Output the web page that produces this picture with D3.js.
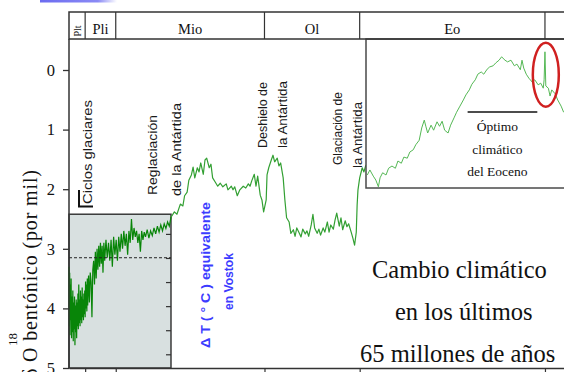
<!DOCTYPE html>
<html lang="es">
<head>
<meta charset="UTF-8">
<title>Cambio climático en los últimos 65 millones de años</title>
<script src="https://d3js.org/d3.v7.min.js"></script>
<style>
    * { margin: 0; padding: 0; box-sizing: border-box; }
    html, body { width: 564px; height: 372px; overflow: hidden; background: #fff; }
    svg { display: block; }
</style>
</head>
<body>
<svg id="chart" width="564" height="372"></svg>
<script>
// epochs (Ma at the boundaries)
const epochNames = ["Plt", "Pli", "Mio", "Ol", "Eo"]
const epochEdges = [0, 1.9, 5.5, 23, 34.2, 56]
const yTicks = [0, 1, 2, 3, 4, 5]
const dTTicks = [2, 0, -2, -4, -6, -8]

// glacial cycles, 0 - 12 Ma (dark green, inside the grey box)
const glacialAge = [
    0, 0.04, 0.08, 0.12, 0.16, 0.2,
    0.25, 0.3, 0.35, 0.4, 0.45, 0.5, 0.55, 0.6, 0.65, 0.7,
    0.75, 0.8, 0.85, 0.9, 0.95, 1, 1.05, 1.1, 1.15, 1.2,
    1.25, 1.3, 1.35, 1.4, 1.45, 1.5, 1.55, 1.6, 1.65, 1.7,
    1.75, 1.8, 1.85, 1.9, 1.95, 2, 2.05, 2.1, 2.15, 2.2,
    2.3, 2.4, 2.5, 2.6, 2.7, 2.8, 2.9, 3, 3.1, 3.2,
    3.3, 3.4, 3.5, 3.6, 3.7, 3.8, 3.9, 4, 4.1, 4.2,
    4.35, 4.5, 4.65, 4.8, 4.95, 5.1, 5.25, 5.4, 5.55, 5.7,
    5.85, 6, 6.15, 6.3, 6.45, 6.6, 6.75, 6.9, 7.05, 7.2,
    7.35, 7.5, 7.65, 7.8, 7.95, 8.1, 8.25, 8.4, 8.55, 8.7,
    8.85,
    9, 9.2, 9.4, 9.6, 9.8, 10, 10.2, 10.4, 10.6, 10.8,
    11, 11.2, 11.4, 11.6, 11.8, 12
]
const glacialD18O = [
    3.30, 4.30, 3.40, 4.45, 3.60, 4.20,
    3.50, 4.50, 3.80, 4.40, 3.70, 4.55, 3.90, 4.35, 3.80, 4.62,
    3.95, 4.40, 3.85, 4.50, 3.90, 4.30, 3.75, 4.35, 3.60, 4.25,
    3.85, 4.30, 3.70, 4.20, 3.80, 4.25, 3.65, 4.15, 3.85, 4.20,
    3.75, 4.10, 3.70, 4.15, 3.55, 4.00, 3.60, 4.05, 3.50, 3.95,
    3.45, 3.90, 3.40, 3.55, 4.15, 3.35, 3.20, 3.60, 3.05, 3.50,
    3.00, 3.35, 2.95, 3.30, 2.90, 3.25, 2.95, 3.40, 2.90, 3.20,
    2.85, 3.15, 2.90, 3.20, 2.85, 3.30, 2.80, 3.10, 2.85, 3.20,
    2.80, 3.05, 2.75, 3.00, 2.70, 2.95, 2.75, 3.10, 2.70, 2.90,
    2.50, 2.85, 2.65, 2.80, 2.70, 2.90, 2.75, 3.05, 2.70, 2.85,
    2.72,
    2.80, 2.68, 2.82, 2.70, 2.78, 2.65, 2.75, 2.62, 2.72, 2.60,
    2.70, 2.58, 2.66, 2.55, 2.62, 2.47
]

// 12 - 35 Ma
const mainAge = [
    12.0, 12.4, 12.7, 13.1, 13.4, 13.6, 13.9, 14.1, 14.4, 14.6,
    14.8, 15.1, 15.3, 15.5, 15.8, 16.0, 16.2, 16.5, 16.7, 16.9,
    17.2, 17.5, 17.8, 18.1, 18.5, 18.7, 19.1, 19.3, 19.5, 19.8,
    20.1, 20.5, 20.8, 21.1, 21.3, 21.5, 21.8, 22.0, 22.2, 22.5,
    22.7, 22.9, 23.2, 23.3, 23.5, 23.8, 24.0, 24.2, 24.5, 24.7,
    24.9, 25.2, 25.4, 25.6, 25.9, 26.1, 26.4, 26.6, 26.8, 27.1,
    27.3, 27.5, 27.8, 28.0, 28.2, 28.5, 28.7, 28.9, 29.2, 29.4,
    29.6, 29.9, 30.1, 30.4, 30.6, 30.8, 31.1, 31.3, 31.5, 31.8,
    32.0, 32.2, 32.5, 32.7, 32.9, 33.2, 33.4, 33.6, 33.8, 33.9,
    34.0, 34.2, 34.5, 34.7, 34.9, 35.2
]
const mainD18O = [
    2.47, 2.38, 2.42, 2.25, 2.28, 2.11, 2.05, 1.85, 1.76, 1.63,
    1.81, 1.64, 1.71, 1.56, 1.75, 1.51, 1.48, 1.64, 1.58, 1.81,
    1.88, 1.95, 1.90, 1.96, 1.91, 2.01, 1.95, 2.01, 1.96, 2.11,
    2.01, 1.95, 1.98, 1.91, 1.95, 1.86, 1.75, 1.95, 1.78, 2.10,
    2.18, 2.38, 2.18, 1.76, 1.64, 1.51, 1.43, 1.54, 1.48, 1.61,
    1.56, 1.81, 2.18, 2.48, 2.55, 2.74, 2.68, 2.79, 2.65, 2.74,
    2.80, 2.67, 2.75, 2.70, 2.79, 2.60, 2.42, 2.65, 2.74, 2.67,
    2.77, 2.65, 2.72, 2.55, 2.72, 2.60, 2.67, 2.52, 2.40, 2.62,
    2.48, 2.68, 2.53, 2.63, 2.58, 2.72, 2.82, 2.94, 2.72, 2.27,
    2.01, 1.81, 1.64, 1.71, 1.61, 1.56
]

// Eocene detail (inset, own vertical scale)
const eoceneAge = [
    35.1, 35.4, 35.8, 36.1, 36.4, 36.6, 36.9, 37.3, 37.6, 38.0,
    38.4, 38.7, 39.1, 39.4, 39.8, 40.1, 40.5, 40.8, 41.2, 41.5,
    41.8, 42.0, 42.2, 42.6, 42.9, 43.3, 43.6, 43.9, 44.2, 44.6,
    44.9, 45.3, 45.6, 46.0, 46.4, 46.7, 47.1, 47.4, 47.8, 48.1,
    48.5, 48.8, 49.2, 49.5, 49.9, 50.2, 50.6, 50.9, 51.3, 51.6,
    52.0, 52.4, 52.7, 53.1, 53.3, 53.5, 53.8, 54.1, 54.5, 54.8,
    55.2, 55.5, 55.8, 55.9, 56.0, 56.1, 56.4, 56.6, 56.8, 57.2,
    57.5, 57.9, 58.2
]
const eoceneD18O = [
    1.50, 1.41, 1.52, 1.59, 1.71, 1.55, 1.46, 1.50, 1.38, 1.34,
    1.38, 1.25, 1.29, 1.18, 1.20, 1.09, 1.05, 0.96, 0.88, 0.66,
    0.52, 0.64, 0.75, 0.61, 0.70, 0.55, 0.63, 0.54, 0.70, 0.75,
    0.61, 0.48, 0.38, 0.27, 0.16, 0.07, -0.02, -0.12, -0.20, -0.30,
    -0.34, -0.30, -0.39, -0.43, -0.45, -0.50, -0.55, -0.61, -0.55, -0.52,
    -0.55, -0.45, -0.48, -0.38, -0.55, -0.41, -0.30, -0.23, -0.16, -0.20,
    -0.11, -0.14, -0.05, -0.20, -0.70, -0.09, -0.05, 0.09, -0.02, 0.05,
    0.16, 0.27, 0.38
]

const glacialBox = { age: [0, 12], d18: [2.42, 5] }
const vostokZero = 3.15
const optimum = { from: 46.9, to: 55.1, level: 0.375, mid: 50.4 }
const petm = { age: 56.1, level: -0.29 }

const SERIF = '"Liberation Serif", "Times New Roman", serif'
const SANS = '"Liberation Sans", Arial, sans-serif'

const svg = d3.select("#chart")
const W = 564

const x = d3.scaleLinear().domain([0, 58.24]).range([69, 564])
const y = d3.scaleLinear().domain([0, 5]).range([70, 368])
const yInset = d3.scaleLinear().domain([-1, 2]).range([35, 203])
const dT = d3.scaleLinear().domain([2, -8]).range([y(2.75), y(4.77)])

// faint blue stripe at the very top
const grad = svg.append("defs").append("linearGradient").attr("id", "stripe")
grad.append("stop").attr("offset", "0%").attr("stop-color", "#6b6bf0")
grad.append("stop").attr("offset", "75%").attr("stop-color", "#8a8af5")
grad.append("stop").attr("offset", "100%").attr("stop-color", "#ffffff")
svg.append("rect").attr("x", 40).attr("y", 0).attr("width", 77).attr("height", 2.5)
    .attr("fill", "url(#stripe)")

// grey box of glacial cycles
svg.append("rect")
    .attr("x", x(glacialBox.age[0])).attr("y", y(glacialBox.d18[0]))
    .attr("width", x(glacialBox.age[1]) - x(glacialBox.age[0]))
    .attr("height", y(glacialBox.d18[1]) - y(glacialBox.d18[0]))
    .attr("fill", "#d8e0e0").attr("stroke", "#3a3a3a").attr("stroke-width", 1.5)

// main curve 12-35 Ma
const line = d3.line().x(d => x(d[0])).y(d => y(d[1]))
svg.append("path")
    .attr("d", line(d3.zip(mainAge, mainD18O)))
    .attr("fill", "none").attr("stroke", "#33a033").attr("stroke-width", 1.2)
    .attr("stroke-linejoin", "round")

// glacial cycles
svg.append("path")
    .attr("d", line(d3.zip(glacialAge, glacialD18O)))
    .attr("fill", "none").attr("stroke", "#088508").attr("stroke-width", 1.2)

svg.append("line")
    .attr("x1", x(glacialBox.age[0])).attr("x2", x(glacialBox.age[1]))
    .attr("y1", y(vostokZero)).attr("y2", y(vostokZero))
    .attr("stroke", "#222").attr("stroke-width", 1).attr("stroke-dasharray", "3,2")

// ΔT ticks on the right edge of the grey box
svg.append("g")
    .attr("transform", `translate(${x(glacialBox.age[1])},0)`)
    .call(d3.axisLeft(dT).tickValues(dTTicks).tickSize(5).tickFormat(""))
    .call(g => g.select(".domain").remove())
    .call(g => g.selectAll("line").attr("stroke", "#333").attr("stroke-width", 1.2))

// inset with the Eocene detail
const inset = svg.append("g")
svg.append("clipPath").attr("id", "insetClip").append("rect")
    .attr("x", 366).attr("y", 39).attr("width", 200).attr("height", 149)
inset.append("rect")
    .attr("x", 366).attr("y", 39).attr("width", 210).attr("height", 149)
    .attr("fill", "#fff").attr("stroke", "#4a4a4a").attr("stroke-width", 1.5)
const insetLine = d3.line().x(d => x(d[0])).y(d => yInset(d[1]))
inset.append("path")
    .attr("clip-path", "url(#insetClip)")
    .attr("d", insetLine(d3.zip(eoceneAge, eoceneD18O)))
    .attr("fill", "none").attr("stroke", "#55b855").attr("stroke-width", 1)
    .attr("stroke-linejoin", "round")
inset.append("line")
    .attr("x1", x(optimum.from)).attr("x2", x(optimum.to))
    .attr("y1", yInset(optimum.level)).attr("y2", yInset(optimum.level))
    .attr("stroke", "#111").attr("stroke-width", 1.5)
inset.append("text").attr("font-family", SERIF)
    .attr("x", x(optimum.mid)).attr("text-anchor", "middle")
    .attr("font-size", 13.5).attr("fill", "#111")
    .selectAll("tspan").data(["Óptimo", "climático", "del Eoceno"]).join("tspan")
    .attr("x", x(optimum.mid))
    .attr("y", (d, i) => yInset(optimum.level) + 19 + i * 22.5)
    .text(d => d)
inset.append("ellipse")
    .attr("cx", x(petm.age)).attr("cy", yInset(petm.level))
    .attr("rx", 13).attr("ry", 32)
    .attr("fill", "none").attr("stroke", "#d02020").attr("stroke-width", 2.5)

// header with epochs
svg.append("rect")
    .attr("x", x(0)).attr("y", 12).attr("width", W + 5 - x(0)).attr("height", 27)
    .attr("fill", "none").attr("stroke", "#333").attr("stroke-width", 1.5)
svg.selectAll("line.edge").data(epochEdges.slice(1)).join("line")
    .attr("class", "edge")
    .attr("x1", d => x(d)).attr("x2", d => x(d)).attr("y1", 12).attr("y2", 39)
    .attr("stroke", "#333").attr("stroke-width", 1.2)
epochNames.forEach((name, i) => {
    const cx = (x(epochEdges[i]) + x(epochEdges[i + 1])) / 2
    if (i === 0) {
        svg.append("text").attr("font-family", SERIF)
            .attr("transform", `translate(${cx + 4},31) rotate(-90)`)
            .attr("text-anchor", "middle").attr("font-size", 10).attr("fill", "#111")
            .text(name)
    } else {
        svg.append("text").attr("font-family", SERIF)
            .attr("x", cx).attr("y", 34).attr("text-anchor", "middle")
            .attr("font-size", 14.5).attr("fill", "#111")
            .text(name)
    }
})

// axes
svg.append("line").attr("x1", x(0)).attr("x2", x(0)).attr("y1", 39).attr("y2", y(5))
    .attr("stroke", "#333").attr("stroke-width", 1.5)
svg.append("g")
    .attr("transform", `translate(${x(0)},0)`)
    .call(d3.axisLeft(y).tickValues(yTicks).tickSize(6).tickPadding(8).tickFormat(d3.format("d")))
    .call(g => g.select(".domain").remove())
    .call(g => g.selectAll("line").attr("stroke", "#333").attr("stroke-width", 1.3))
    .call(g => g.selectAll("text").attr("font-family", SERIF).attr("font-size", 16.5).attr("fill", "#111"))

svg.append("g")
    .attr("transform", `translate(0,${y(5)})`)
    .call(d3.axisBottom(x).tickValues(epochEdges.slice(1)).tickSize(5).tickSizeOuter(0).tickFormat(""))
    .call(g => g.select(".domain").attr("stroke", "#333").attr("stroke-width", 1.5))
    .call(g => g.selectAll("line").attr("stroke", "#333").attr("stroke-width", 1.2))

// y title: δ, raised 18, then "O bentónico (por mil)"
svg.append("text").attr("font-family", SERIF)
    .attr("transform", "translate(37,378) rotate(-90)")
    .attr("font-size", 20).attr("fill", "#111")
    .text("δ")
svg.append("text").attr("font-family", SERIF)
    .attr("transform", "translate(17,346) rotate(-90)")
    .attr("font-size", 13).attr("fill", "#111")
    .text("18")
svg.append("text").attr("font-family", SERIF)
    .attr("transform", "translate(37,362) rotate(-90)")
    .attr("font-size", 20).attr("fill", "#111")
    .attr("textLength", 192).attr("lengthAdjust", "spacing")
    .text("O bentónico (por mil)")

// event labels
const rotated = (txt, px, py, len, opts = {}) => svg.append("text")
    .attr("font-family", SANS)
    .attr("transform", `translate(${px},${py}) rotate(-90)`)
    .attr("font-size", opts.size || 12.5)
    .attr("font-weight", opts.weight || "normal")
    .attr("fill", opts.fill || "#1a1a1a")
    .attr("textLength", len).attr("lengthAdjust", "spacingAndGlyphs")
    .text(txt)

rotated("Ciclos glaciares", 92, 204, 104)
rotated("Reglaciación", 157, 195, 80)
rotated("de la Antártida", 181, 196, 93)
rotated("Deshielo de", 267, 148, 66)
rotated("la Antártida", 287, 148, 67)
rotated("Glaciación de", 342, 165, 73)
rotated("la Antártida", 362, 168, 66)
rotated("Δ T ( ° C ) equivalente", 210, 348, 146, { size: 12, weight: "bold", fill: "#3c3cff" })
rotated("en Vostok", 233, 310, 57, { size: 12, weight: "bold", fill: "#3c3cff" })

svg.append("path").attr("d", "M79,190V206.5H93")
    .attr("fill", "none").attr("stroke", "#111").attr("stroke-width", 2)

// big caption
svg.append("text").attr("font-family", SERIF)
    .attr("font-size", 24.5).attr("fill", "#111")
    .selectAll("tspan")
    .data([["Cambio climático", 372, 278], ["en los últimos", 395, 320], ["65 millones de años", 360, 362]])
    .join("tspan")
    .attr("x", d => d[1]).attr("y", d => d[2])
    .text(d => d[0])
</script>
</body>
</html>
